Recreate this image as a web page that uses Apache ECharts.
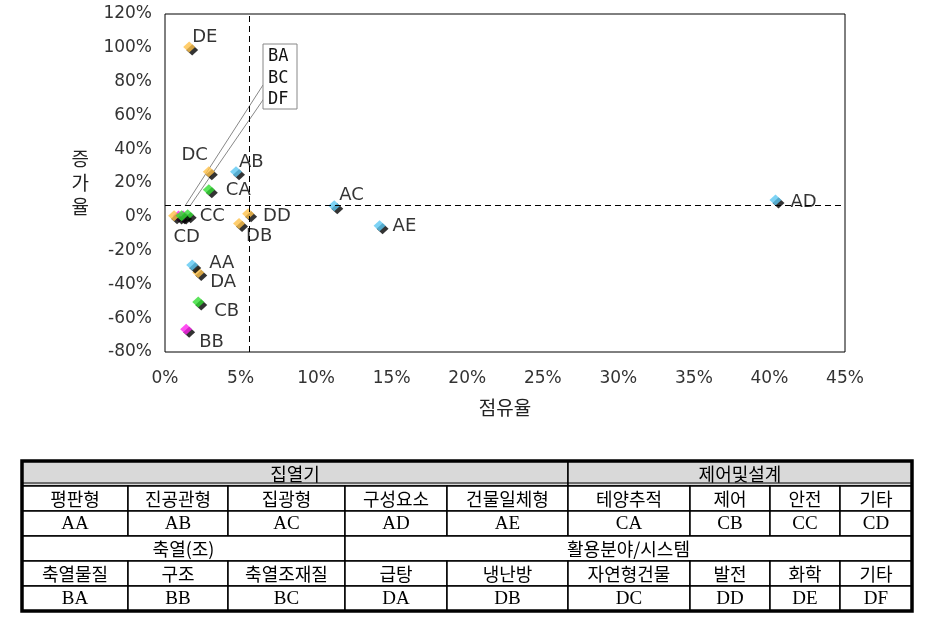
<!DOCTYPE html>
<html>
<head>
<meta charset="utf-8">
<script src="https://cdn.jsdelivr.net/npm/echarts@6/dist/echarts.min.js"></script>
<style>
  html, body { margin: 0; padding: 0; background: #fff; }
  #chart { width: 931px; height: 625px; }
</style>
</head>
<body>
<div id="chart"></div>
<script>
// 점유율(%) / 증가율(%) per code
const codes  = ['AA', 'AB', 'AC', 'AD', 'AE', 'BA', 'BB', 'BC', 'CA', 'CB', 'CC', 'CD', 'DA', 'DB', 'DC', 'DD', 'DE', 'DF']
const share  = [1.8, 4.7, 11.2, 40.4, 14.2, 0.9, 1.4, 1.2, 2.9, 2.2, 1.5, 1.1, 2.2, 4.9, 2.9, 5.5, 1.6, 0.6]
const growth = [-28.5, 26.7, 6.5, 10.0, -5.3, 0.5, -66.5, 0.5, 16.0, -50.4, 1.2, 0.6, -33.0, -4.0, 26.7, 1.8, 100.5, 0.6]
const avgShare = 5.6
const avgGrowth = 7.1
const calloutCodes = ['BA', 'BC', 'DF']

const xTicks = [0, 45, 5]
const yTicks = [-80, 120, 20]

// legend table
const colEdges = [22, 128, 228, 345, 447, 568, 690, 770, 840, 912]
const rowEdges = [461, 486, 511, 536, 561, 586, 611]
const groups1 = [['집열기', 5], ['제어및설계', 4]]
const names1 = ['평판형', '진공관형', '집광형', '구성요소', '건물일체형', '테양추적', '제어', '안전', '기타']
const codes1 = ['AA', 'AB', 'AC', 'AD', 'AE', 'CA', 'CB', 'CC', 'CD']
const groups2 = [['축열(조)', 3], ['활용분야/시스템', 6]]
const names2 = ['축열물질', '구조', '축열조재질', '급탕', '냉난방', '자연형건물', '발전', '화학', '기타']
const codes2 = ['BA', 'BB', 'BC', 'DA', 'DB', 'DC', 'DD', 'DE', 'DF']

const groupColor = { A: '#5cc8f2', B: '#ff22ee', C: '#33dd33', D: '#ffc24a' }
const seriesOrder = ['B', 'D', 'A', 'C']

// label placement per code: [position, dx, dy]
const labelPlace = {
  AA: ['right', 9, -2], AB: ['right', -5, -9], AC: ['right', -3, -10], AD: ['right', 7, 2], AE: ['right', 5, 1],
  BA: ['right', 0, 0], BB: ['right', 5, 13], BC: ['right', 0, 0],
  CA: ['right', 9, 1], CB: ['right', 8, 9], CC: ['right', 4, 2], CD: ['bottom', 5, 5],
  DA: ['right', 4, 10], DB: ['right', -1, 13], DC: ['left', 7, -16], DD: ['right', 7, 3], DE: ['right', -5, -10], DF: ['right', 0, 0]
}

const chart = echarts.init(document.getElementById('chart'))

const series = seriesOrder.map(g => {
  const data = []
  codes.forEach((c, i) => {
    if (c[0] !== g) return
    const p = labelPlace[c]
    data.push({
      name: c,
      value: [share[i], growth[i]],
      label: {
        show: calloutCodes.indexOf(c) < 0,
        position: p[0],
        offset: [p[1], p[2]]
      }
    })
  })
  return {
    type: 'scatter',
    name: g,
    symbol: 'diamond',
    symbolSize: [12, 11],
    data: data,
    itemStyle: {
      color: groupColor[g],
      shadowColor: '#000',
      shadowOffsetX: 3,
      shadowOffsetY: 3,
      shadowBlur: 0
    },
    label: {
      formatter: '{b}',
      distance: 2,
      color: '#000',
      fontFamily: 'DejaVu Sans',
      fontSize: 18
    },
    emphasis: { disabled: true }
  }
})

series.push({
  type: 'scatter',
  data: [],
  silent: true,
  markLine: {
    silent: true,
    symbol: 'none',
    label: { show: false },
    lineStyle: { color: '#000', type: [6, 4], width: 1 },
    data: [{ xAxis: avgShare }, { yAxis: avgGrowth }]
  }
})

// table graphics
function tableGraphics() {
  const els = []
  const text = (x, y, s, serif) => ({
    type: 'text', x: x, y: y, silent: true,
    style: {
      text: s, fill: '#000', align: 'center', verticalAlign: 'middle',
      font: serif ? '19px "Liberation Serif"' : '18px "Noto Sans CJK KR"'
    }
  })
  const cell = (c0, c1, r, fill, s, serif) => {
    const x0 = colEdges[c0], x1 = colEdges[c1], y0 = rowEdges[r], y1 = rowEdges[r + 1]
    els.push({
      type: 'rect', silent: true,
      shape: { x: x0, y: y0, width: x1 - x0, height: y1 - y0 },
      style: { fill: fill, stroke: '#000', lineWidth: 1.5 }
    })
    els.push(text((x0 + x1) / 2, (y0 + y1) / 2 + 1, s, serif))
  }
  const groupRow = (groups, r, fill) => {
    let c = 0
    groups.forEach(gr => { cell(c, c + gr[1], r, fill, gr[0], false); c += gr[1] })
  }
  groupRow(groups1, 0, '#d9d9d9')
  names1.forEach((s, i) => cell(i, i + 1, 1, '#fff', s, false))
  codes1.forEach((s, i) => cell(i, i + 1, 2, '#fff', s, true))
  groupRow(groups2, 3, '#fff')
  names2.forEach((s, i) => cell(i, i + 1, 4, '#fff', s, false))
  codes2.forEach((s, i) => cell(i, i + 1, 5, '#fff', s, true))
  // double rule under header
  els.push({
    type: 'line', silent: true,
    shape: { x1: colEdges[0], y1: rowEdges[1] - 3, x2: colEdges[9], y2: rowEdges[1] - 3 },
    style: { stroke: '#000', lineWidth: 1 }
  })
  // heavy outer frame
  els.push({
    type: 'rect', silent: true,
    shape: { x: colEdges[0], y: rowEdges[0], width: colEdges[9] - colEdges[0], height: rowEdges[6] - rowEdges[0] },
    style: { fill: 'none', stroke: '#000', lineWidth: 3.5 }
  })
  return els
}

const option = {
  backgroundColor: '#fff',
  animation: false,
  grid: {
    left: 165, right: 86, top: 14, bottom: 273,
    show: true, borderColor: '#000', borderWidth: 1, backgroundColor: 'transparent'
  },
  xAxis: {
    type: 'value',
    min: xTicks[0], max: xTicks[1], interval: xTicks[2],
    name: '점유율',
    nameLocation: 'middle',
    nameGap: 46,
    nameTextStyle: { fontFamily: 'Noto Sans CJK KR', fontSize: 19, color: '#222' },
    axisLine: { show: false },
    axisTick: { show: false },
    splitLine: { show: false },
    axisLabel: {
      formatter: '{value}%', margin: 18,
      fontFamily: 'DejaVu Sans', fontSize: 17, color: '#333'
    }
  },
  yAxis: {
    type: 'value',
    min: yTicks[0], max: yTicks[1], interval: yTicks[2],
    name: '증\n가\n율',
    nameLocation: 'middle',
    nameRotate: 0,
    nameGap: 76,
    nameTextStyle: { fontFamily: 'Noto Sans CJK KR', fontSize: 19, color: '#222', lineHeight: 24 },
    axisLine: { show: false },
    axisTick: { show: false },
    splitLine: { show: false },
    axisLabel: {
      formatter: '{value}%', margin: 13, padding: [6, 0, 0, 0],
      fontFamily: 'DejaVu Sans', fontSize: 17, color: '#333'
    }
  },
  series: series
}

chart.setOption(option)

// callout box for the overlapping points near the origin
function calloutGraphics() {
  const els = []
  const box = { x: 263, y: 44, w: 34, h: 65 }
  const ends = [['BA', 263, 85], ['BC', 265, 97]]
  ends.forEach(e => {
    const i = codes.indexOf(e[0])
    const p = chart.convertToPixel({ gridIndex: 0 }, [share[i], growth[i]])
    const dx = e[1] - p[0], dy = e[2] - p[1]
    const len = Math.sqrt(dx * dx + dy * dy)
    const k = 12 / len
    els.push({
      type: 'line', silent: true,
      shape: { x1: e[1], y1: e[2], x2: p[0] + dx * k, y2: p[1] + dy * k },
      style: { stroke: '#888', lineWidth: 1 }
    })
  })
  els.push({
    type: 'rect', silent: true,
    shape: { x: box.x, y: box.y, width: box.w, height: box.h },
    style: { fill: '#fff', stroke: '#888', lineWidth: 1 }
  })
  calloutCodes.forEach((c, k) => {
    els.push({
      type: 'text', silent: true, x: box.x + 5, y: box.y + 13 + k * 21.5,
      style: { text: c, fill: '#111', verticalAlign: 'middle', font: '17px "DejaVu Sans Mono"' }
    })
  })
  return els
}

chart.setOption({ graphic: calloutGraphics().concat(tableGraphics()) })
</script>
</body>
</html>
